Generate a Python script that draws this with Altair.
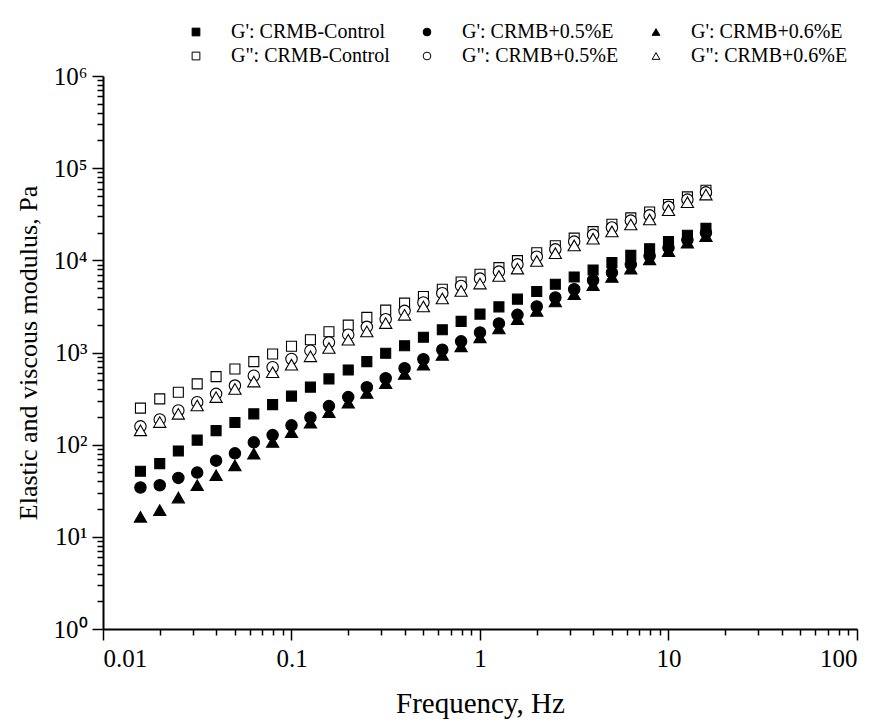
import altair as alt
import pandas as pd

# ---------------- data ----------------
freq_hz = [0.0158, 0.02, 0.0251, 0.0316, 0.0398, 0.0501, 0.0631, 0.0794,
           0.1, 0.126, 0.158, 0.2, 0.251, 0.316, 0.398, 0.501, 0.631, 0.794,
           1.0, 1.26, 1.58, 2.0, 2.51, 3.16, 3.98, 5.01, 6.31, 7.94,
           10.0, 12.6, 15.8]

g1_control = [51.5, 62.3, 85.5, 112, 142, 174, 216, 272, 336, 421, 517, 647,
              796, 980, 1185, 1465, 1765, 2175, 2610, 3128, 3790, 4585, 5505,
              6600, 7860, 9440, 11330, 13380, 16000, 18700, 22200]
g1_05e = [34.3, 36.3, 43.6, 49.8, 67.1, 80.5, 106, 127, 162, 197, 262, 328,
          421, 526, 675, 845, 1072, 1322, 1652, 2068, 2565, 3157, 3950, 4860,
          6080, 7360, 9050, 11130, 13720, 16570, 19900]
g1_06e = [16.5, 19.5, 26.7, 36.3, 46.6, 59.7, 80, 107, 137, 173, 226, 285,
          365, 465, 586, 738, 940, 1167, 1460, 1827, 2300, 2830, 3580, 4290,
          5370, 6600, 8130, 10250, 12610, 15530, 18330]
g2_control = [249, 314, 371, 457, 548, 663, 796, 964, 1167, 1375, 1679, 1983,
              2404, 2880, 3430, 4055, 4860, 5830, 7060, 8340, 9930, 12100,
              14400, 17400, 20500, 24600, 28900, 33500, 40300, 48800, 57500]
g2_05e = [158, 188, 235, 289, 356, 438, 560, 692, 851, 1047, 1289, 1560,
          1900, 2300, 2830, 3490, 4400, 5275, 6340, 7550, 9050, 10960, 13150,
          15980, 18900, 22700, 27000, 30800, 38100, 45600, 54700]
g2_06e = [143, 176, 216, 266, 328, 403, 484, 611, 738, 910, 1119, 1375, 1695,
          2085, 2565, 3157, 3855, 4660, 5600, 6760, 8130, 9840, 11960, 14520,
          17170, 20600, 24500, 27800, 35000, 42700, 51700]

series_names = ["G': CRMB-Control", "G': CRMB+0.5%E", "G': CRMB+0.6%E",
                'G": CRMB-Control', 'G": CRMB+0.5%E', 'G": CRMB+0.6%E']
series_values = [g1_control, g1_05e, g1_06e, g2_control, g2_05e, g2_06e]
series_marker = ["square", "circle", "triangle-up", "square", "circle", "triangle-up"]

x_major = [0.01, 0.1, 1, 10, 100]
y_major = [1, 10, 100, 1000, 10000, 100000, 1000000]
y_labels = ["10⁰", "10¹", "10²", "10³", "10⁴", "10⁵", "10⁶"]
minor_mult = [2, 3, 4, 5, 6, 7, 8, 9]

# ---------------- table ----------------
rows = []
for name, vals, mk in zip(series_names, series_values, series_marker):
    for f, v in zip(freq_hz, vals):
        rows.append({"freq": f, "modulus": v, "series": name, "marker": mk})
df = pd.DataFrame(rows)

x_ticks = sorted(x_major + [m * b for b in x_major[:-1] for m in minor_mult])
y_ticks = sorted(y_major + [m * b for b in y_major[:-1] for m in minor_mult])

major_test = "abs(log(datum.value)/LN10 - round(log(datum.value)/LN10)) < 0.001"
y_label_arr = "[" + ",".join("'" + s + "'" for s in y_labels) + "]"
y_label_expr = f"{major_test} ? {y_label_arr}[round(log(datum.value)/LN10)] : ''"
x_label_expr = f"{major_test} ? format(datum.value, '~g') : ''"

FONT = "Liberation Serif"
tick_size = {"condition": {"test": major_test, "value": 11}, "value": 6}

fills = ["black", "black", "black", "white", "white", "white"]
strokes = ["black"] * 6
marker_sizes = {"square": 100, "circle": 130, "triangle-up": 150}

legend = alt.Legend(
    orient="none", legendX=83, legendY=-54, columns=3, direction="horizontal",
    symbolSize=60, symbolStrokeColor="black", symbolStrokeWidth=1,
    labelFont=FONT, labelFontSize=20, labelColor="black", labelOffset=25,
    columnPadding=27, rowPadding=4, padding=0,
)

x_enc = alt.X("freq:Q",
              scale=alt.Scale(type="log", domain=[0.01, 100], nice=False),
              axis=alt.Axis(values=x_ticks, labelExpr=x_label_expr,
                            tickSize=tick_size, title="Frequency, Hz",
                            grid=False, labelPadding=6, titlePadding=18,
                            titleFontSize=29))
y_enc = alt.Y("modulus:Q",
              scale=alt.Scale(type="log", domain=[1, 1000000], nice=False),
              axis=alt.Axis(values=y_ticks, labelExpr=y_label_expr,
                            tickSize=tick_size, title="Elastic and viscous modulus, Pa",
                            grid=False, labelPadding=5, titlePadding=12,
                            titleFontSize=26))
shape_enc = alt.Shape("series:N", title=None,
                      scale=alt.Scale(domain=series_names, range=series_marker),
                      legend=legend)
fill_enc = alt.Fill("series:N", title=None,
                    scale=alt.Scale(domain=series_names, range=fills),
                    legend=legend)
stroke_enc = alt.Stroke("series:N", title=None,
                        scale=alt.Scale(domain=series_names, range=strokes),
                        legend=legend)

base = alt.Chart(df).encode(x=x_enc, y=y_enc, shape=shape_enc, fill=fill_enc,
                            stroke=stroke_enc)

layers = []
for mk in ["square", "circle", "triangle-up"]:
    layers.append(
        base.transform_filter(alt.datum.marker == mk).mark_point(
            filled=True, opacity=1, strokeWidth=1.1, size=marker_sizes[mk])
    )

chart = alt.layer(*layers).properties(
    width=754, height=553,
    autosize=alt.AutoSizeParams(type="none"),
    padding={"left": 103, "top": 76, "right": 22, "bottom": 93},
    background="white",
).configure(
    font=FONT
).configure_view(
    stroke=None
).configure_legend(
    labelFont=FONT
).configure_axis(
    domainColor="black", domainWidth=2, tickColor="black", tickWidth=1.5,
    labelFont=FONT, labelFontSize=25, labelColor="black",
    titleFont=FONT, titleFontWeight="normal", titleColor="black",
)

chart.save("out.html", embed_options={"renderer": "svg", "actions": False})
